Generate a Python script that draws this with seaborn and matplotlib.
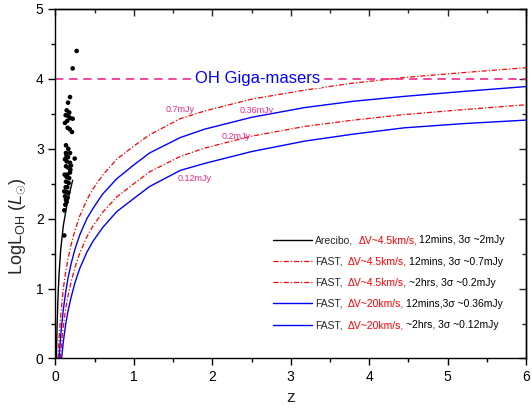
import numpy as np
import pandas as pd
import matplotlib
matplotlib.use("Agg")
import matplotlib.pyplot as plt
import seaborn as sns
from matplotlib.ticker import MultipleLocator

# ---- data ----
# OH megamaser detections (z, log L_OH)
ohm_z = [0.27, 0.219, 0.185, 0.16, 0.143, 0.13, 0.163, 0.185, 0.219, 0.121,
         0.155, 0.181, 0.21, 0.134, 0.163, 0.134, 0.185, 0.121, 0.143, 0.185,
         0.245, 0.134, 0.163, 0.197, 0.117, 0.15, 0.185, 0.134, 0.168, 0.112,
         0.143, 0.121, 0.163, 0.134, 0.155, 0.143, 0.112, 0.112, 0.15, 0.175,
         0.14, 0.16, 0.19, 0.13, 0.15, 0.125, 0.14, 0.175]
ohm_logL = [4.40, 4.15, 3.74, 3.66, 3.55, 3.48, 3.47, 3.44, 3.43, 3.37,
            3.30, 3.28, 3.24, 3.05, 3.00, 2.94, 2.94, 2.85, 2.82, 2.80,
            2.86, 2.75, 2.73, 2.76, 2.63, 2.63, 2.66, 2.53, 2.51, 2.39,
            2.38, 2.32, 2.37, 2.27, 2.30, 2.24, 2.12, 1.76, 3.40, 3.52,
            2.90, 2.88, 2.70, 2.45, 2.45, 2.20, 2.60, 2.58]

# Arecibo limit
are_z = [0.012, 0.015, 0.02, 0.03, 0.045, 0.066, 0.1, 0.15, 0.219]
are_y = [0.0, 0.2, 0.45, 0.82, 1.2, 1.55, 1.9, 2.23, 2.55]

# FAST, dV~4.5km/s, 12mins, 0.7mJy
f07_z = [0.033, 0.04, 0.05, 0.066, 0.08, 0.10, 0.13, 0.16, 0.2, 0.25, 0.31,
         0.40, 0.48, 0.6, 0.78, 1.0, 1.2, 1.59, 1.9, 2.5, 3.18, 3.8, 4.45,
         5.2, 6.0]
f07_y = [0.0, 0.17, 0.36, 0.60, 0.77, 1.0, 1.24, 1.43, 1.63, 1.84, 2.04,
         2.27, 2.43, 2.62, 2.85, 3.04, 3.20, 3.43, 3.54, 3.71, 3.84, 3.94,
         4.02, 4.09, 4.16]

# FAST, dV~4.5km/s, ~2hrs, 0.2mJy
f02_z = [0.062, 0.066, 0.08, 0.10, 0.13, 0.16, 0.2, 0.25, 0.31, 0.40, 0.48,
         0.6, 0.78, 1.0, 1.2, 1.59, 1.9, 2.5, 3.18, 3.8, 4.45, 5.2, 6.0]
f02_y = [0.0, 0.07, 0.24, 0.46, 0.71, 0.90, 1.10, 1.31, 1.51, 1.74, 1.90,
         2.09, 2.31, 2.50, 2.67, 2.89, 3.01, 3.18, 3.32, 3.41, 3.49, 3.56,
         3.63]

# FAST, dV~20km/s, 12mins, 0.36mJy
f036_z = [0.045, 0.05, 0.066, 0.08, 0.10, 0.13, 0.16, 0.2, 0.25, 0.31, 0.40,
          0.48, 0.6, 0.78, 1.0, 1.2, 1.59, 1.9, 2.5, 3.18, 3.8, 4.45, 5.2,
          6.0]
f036_y = [0.0, 0.08, 0.32, 0.49, 0.70, 0.95, 1.15, 1.36, 1.57, 1.77, 2.00,
          2.15, 2.35, 2.57, 2.77, 2.94, 3.16, 3.28, 3.45, 3.59, 3.68, 3.75,
          3.82, 3.89]

# FAST, dV~20km/s, ~2hrs, 0.12mJy
f012_z = [0.077, 0.08, 0.10, 0.13, 0.16, 0.2, 0.25, 0.31, 0.40, 0.48, 0.6,
          0.78, 1.0, 1.2, 1.59, 1.9, 2.5, 3.18, 3.8, 4.45, 5.2, 6.0]
f012_y = [0.0, 0.02, 0.24, 0.49, 0.68, 0.88, 1.09, 1.29, 1.52, 1.68, 1.87,
          2.10, 2.29, 2.46, 2.69, 2.79, 2.96, 3.11, 3.21, 3.30, 3.36, 3.41]

giga_level = 4.0

# curve labels: text, z, logL
curve_labels = ["0.7mJy", "0.36mJy", "0.2mJy", "0.12mJy"]
curve_label_z = [1.59, 2.57, 2.30, 1.77]
curve_label_y = [3.56, 3.55, 3.18, 2.57]

# legend text pieces (black, red, black)
leg_first = ["Arecibo,", "FAST,", "FAST,", "FAST,", "FAST,"]
leg_red = ["\u0394V~4.5km/s,", "\u0394V~4.5km/s,", "\u0394V~4.5km/s,",
           "\u0394V~20km/s,", "\u0394V~20km/s,"]
leg_rest = ["12mins, 3\u03c3 ~2mJy", "12mins, 3\u03c3 ~0.7mJy",
            "~2hrs, 3\u03c3 ~0.2mJy", "12mins,3\u03c3 ~0.36mJy",
            "~2hrs, 3\u03c3 ~0.12mJy"]

# ---- style ----
sns.set_style("ticks")
plt.rcParams["font.family"] = ["Liberation Sans", "DejaVu Sans"]
plt.rcParams["mathtext.fontset"] = "custom"
plt.rcParams["mathtext.rm"] = "Liberation Sans"
plt.rcParams["mathtext.it"] = "Liberation Sans:italic"

RED = "#ff0000"
BLUE = "#0000ff"
PINK = "#f0288c"

fig = plt.figure(figsize=(5.32, 4.12), dpi=100)
ax = fig.add_axes([0.1043, 0.1299, 0.8844, 0.8483])

sns.scatterplot(x=ohm_z, y=ohm_logL, ax=ax, color="black", s=11,
                edgecolor="none", zorder=4)

l_are = sns.lineplot(x=are_z, y=are_y, ax=ax, color="black", lw=1.0,
                     sort=False).lines[-1]
l07 = sns.lineplot(x=f07_z, y=f07_y, ax=ax, color=RED, lw=0.9,
                   linestyle=(0, (4, 1.6, 1, 1.6))).lines[-1]
l02 = sns.lineplot(x=f02_z, y=f02_y, ax=ax, color=RED, lw=0.9,
                   linestyle=(0, (4, 1.6, 1, 1.6))).lines[-1]
l036 = sns.lineplot(x=f036_z, y=f036_y, ax=ax, color=BLUE, lw=1.0).lines[-1]
l012 = sns.lineplot(x=f012_z, y=f012_y, ax=ax, color=BLUE, lw=1.0).lines[-1]

ax.axhline(giga_level, color=PINK, lw=1.2, linestyle=(0, (5, 3.5)), zorder=2)
ax.text(2.58, giga_level, "OH Giga-masers", color=BLUE, fontsize=12,
        ha="center", va="center", zorder=3,
        bbox=dict(facecolor="white", edgecolor="none", pad=1.0))

for txt, cz, cy in zip(curve_labels, curve_label_z, curve_label_y):
    ax.text(cz, cy, txt, color=PINK, fontsize=6.5, ha="center", va="center")

ax.set_xlim(0, 6)
ax.set_ylim(0, 5)
ax.xaxis.set_major_locator(MultipleLocator(1))
ax.xaxis.set_minor_locator(MultipleLocator(0.5))
ax.yaxis.set_major_locator(MultipleLocator(1))
ax.yaxis.set_minor_locator(MultipleLocator(0.5))
ax.tick_params(which="both", direction="out", top=False, right=False,
               labelsize=10, width=1, colors="black")
ax.tick_params(which="major", length=5)
ax.tick_params(which="minor", length=3)

# mirrored inward ticks on top and right
secx = ax.secondary_xaxis("top")
secx.xaxis.set_major_locator(MultipleLocator(1))
secx.xaxis.set_minor_locator(MultipleLocator(0.5))
secx.tick_params(which="both", direction="in", labeltop=False, width=1)
secx.tick_params(which="major", length=5)
secx.tick_params(which="minor", length=3)
secy = ax.secondary_yaxis("right")
secy.yaxis.set_major_locator(MultipleLocator(1))
secy.yaxis.set_minor_locator(MultipleLocator(0.5))
secy.tick_params(which="both", direction="in", labelright=False, width=1)
secy.tick_params(which="major", length=5)
secy.tick_params(which="minor", length=3)

for a in (ax, secx, secy):
    for sp in a.spines.values():
        sp.set_linewidth(1.0)
        sp.set_color("black")

ax.set_xlabel("z", fontsize=12.5, labelpad=4)
ax.set_ylabel(r"LogL$_{\mathrm{OH}}$ ($\mathit{L}_{\odot}$)", fontsize=13)
ax.yaxis.set_label_coords(-0.058, 0.38)

# legend with mixed-colour labels
fs = 7.45
leg = ax.legend([l_are, l07, l02, l036, l012], leg_first, loc="upper left",
                bbox_to_anchor=(0.462, 0.352), frameon=False, fontsize=fs,
                handlelength=3.75, handletextpad=0.35, labelspacing=1.08,
                borderpad=0, borderaxespad=0)
for t, red_part, rest in zip(leg.get_texts(), leg_red, leg_rest):
    a1 = ax.annotate(red_part, xy=(1, 0), xycoords=t, xytext=(3.5, 0),
                     textcoords="offset points", color=RED, fontsize=fs,
                     ha="left", va="bottom", zorder=10)
    ax.annotate(rest, xy=(1, 0), xycoords=a1, xytext=(1.5, 0),
                textcoords="offset points", color="black", fontsize=fs,
                ha="left", va="bottom", zorder=10)

fig.savefig("out.png", dpi=100)
